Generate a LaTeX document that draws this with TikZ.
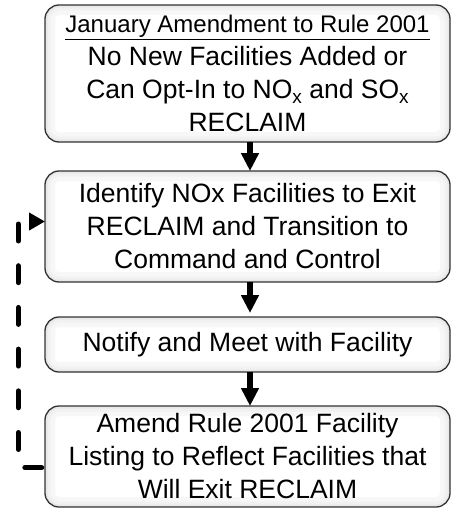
\documentclass[tikz,border=0pt]{standalone}
\usepackage{fontspec}
\setmainfont{Liberation Sans}
\usetikzlibrary{arrows.meta}
\pgfdeclarelayer{bg}
\pgfsetlayers{bg,main}
\definecolor{bordergray}{HTML}{333333}
\newcommand{\lowx}{\raisebox{-5pt}{\fontsize{19}{19}\selectfont x}}
\begin{document}
\begin{tikzpicture}[x=1pt,y=-1pt,
  box/.style={draw=bordergray, line width=1.3pt, rounded corners=14pt,
    minimum width=405pt, inner sep=0pt, outer sep=0pt, align=center,
    font=\fontsize{26.5}{33}\selectfont},
  flow/.style={line width=5.5pt, -{Triangle[width=17pt,length=18pt]}},
  loopline/.style={line width=5.5pt, line cap=round,
    dash pattern=on 16.5pt off 25.2pt, dash phase=38.25pt,
    -{Triangle[width=17pt,length=16pt]}}]
\useasboundingbox (0,0) rectangle (451,508);

\node[box, minimum height=137pt] (b1) at (247.5,73.5)
  {{\fontsize{24}{33}\selectfont\underline{January Amendment to Rule 2001}}\\
   No New Facilities Added or\\
   Can Opt-In to NO\lowx{} and SO\lowx\\
   RECLAIM};
\node[box, minimum height=111pt] (b2) at (247.5,226.5)
  {Identify NOx Facilities to Exit\\
   RECLAIM and Transition to\\
   Command and Control};
\node[box, minimum height=55pt] (b3) at (247.5,344.5)
  {Notify and Meet with Facility};
\node[box, minimum height=101pt] (b4) at (247.5,456.5)
  {Amend Rule 2001 Facility\\
   Listing to Reflect Facilities that\\
   Will Exit RECLAIM};

\begin{pgfonlayer}{bg}
\foreach \n in {b1,b2,b3,b4}{
  \fill[white, rounded corners=14pt] (\n.north west) rectangle (\n.south east);
  \begin{scope}
    \clip[rounded corners=14pt] (\n.north west) rectangle (\n.south east);
    \draw[gray!6, line width=20pt, rounded corners=14pt] (\n.north west) rectangle (\n.south east);
    \draw[gray!11, line width=11pt, rounded corners=14pt] (\n.north west) rectangle (\n.south east);
    \draw[gray!18, line width=5pt, rounded corners=14pt] (\n.north west) rectangle (\n.south east);
  \end{scope}
}
\end{pgfonlayer}

\draw[flow] ([xshift=2.5pt]b1.south) -- ([xshift=2.5pt]b2.north);
\draw[flow, shorten >=4pt] ([xshift=2.5pt]b2.south) -- ([xshift=2.5pt]b3.north);
\draw[flow] ([xshift=2.5pt]b3.south) -- ([xshift=2.5pt]b4.north);

\coordinate (lc) at (18.3,221.5);
\draw[loopline] ([yshift=-11.2pt]b4.west) -| (lc) -- ([yshift=5pt]b2.west);
\end{tikzpicture}
\end{document}
